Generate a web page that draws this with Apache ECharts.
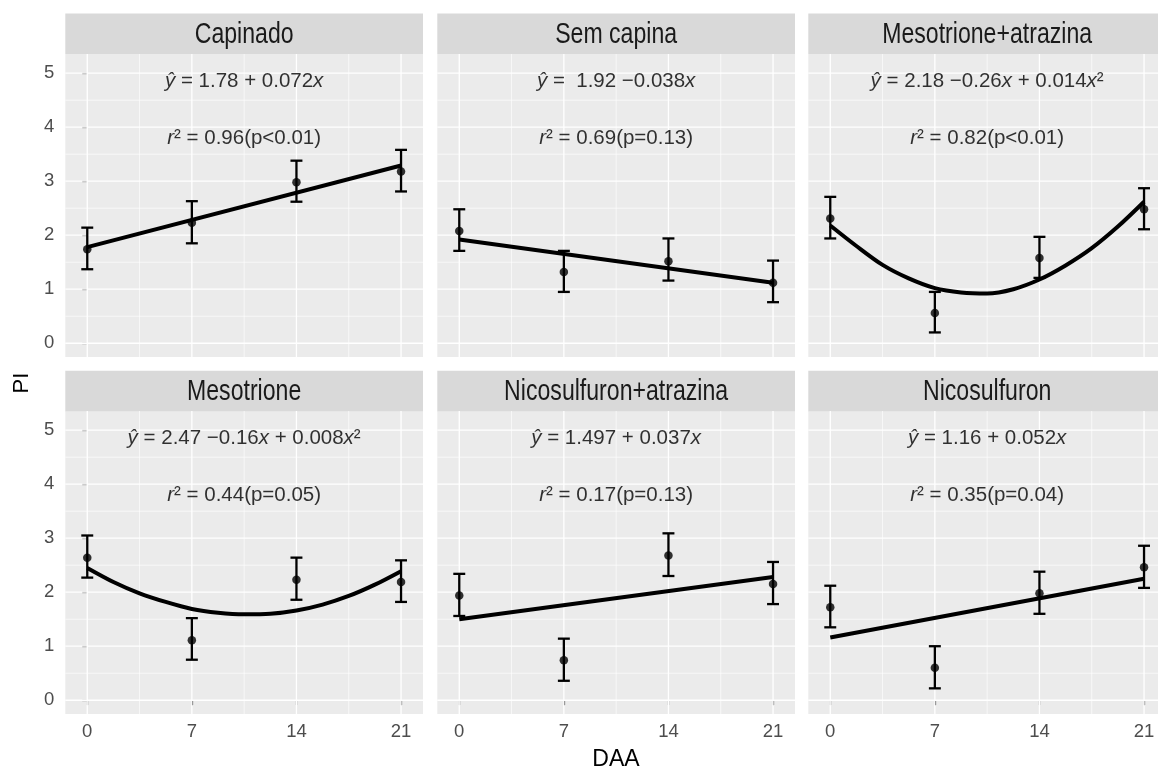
<!DOCTYPE html>
<html><head><meta charset="utf-8">
<script src="https://cdn.jsdelivr.net/npm/echarts@6/dist/echarts.min.js"></script>
<style>html,body{margin:0;padding:0;background:#fff}#c{width:1158px;height:771px}</style>
</head><body><div id="c"></div>
<script>
// ---------------- data ----------------
const panels = ["Capinado","Sem capina","Mesotrione+atrazina","Mesotrione","Nicosulfuron+atrazina","Nicosulfuron"];
const days = [0,7,14,21];
const xTicks = [0,7,14,21];
const xMinor = [3.5,10.5,17.5];
const yTicks = [0,1,2,3,4,5];
const yMinor = [0.5,1.5,2.5,3.5,4.5];
const meanCapinado   = [1.74,2.23,2.98,3.18];
const meanSemCapina  = [2.08,1.32,1.52,1.12];
const meanMesoAtra   = [2.31,0.56,1.58,2.48];
const meanMeso       = [2.64,1.11,2.23,2.19];
const meanNicoAtra   = [1.94,0.74,2.68,2.15];
const meanNico       = [1.72,0.60,1.98,2.46];
const lowCapinado    = [1.37,1.85,2.62,2.81];
const lowSemCapina   = [1.71,0.95,1.16,0.76];
const lowMesoAtra    = [1.94,0.20,1.21,2.11];
const lowMeso        = [2.27,0.75,1.86,1.82];
const lowNicoAtra    = [1.56,0.36,2.30,1.78];
const lowNico        = [1.35,0.22,1.60,2.08];
const upCapinado     = [2.14,2.63,3.38,3.58];
const upSemCapina    = [2.48,1.71,1.94,1.53];
const upMesoAtra     = [2.71,0.95,1.97,2.87];
const upMeso         = [3.05,1.52,2.64,2.59];
const upNicoAtra     = [2.34,1.14,3.09,2.56];
const upNico         = [2.12,1.00,2.38,2.86];
const fitXLinear = [0,21];
const fitXCurve  = [0,1.75,3.5,5.25,7,8.75,10.5,12.25,14,15.75,17.5,19.25,21];
const fitCapinado  = [1.78,3.29];
const fitSemCapina = [1.92,1.12];
const fitMesoAtra  = [2.18,1.80,1.45,1.20,1.02,0.94,0.92,1.00,1.18,1.44,1.76,2.16,2.62];
const fitMeso      = [2.45,2.19,1.98,1.82,1.69,1.62,1.59,1.60,1.66,1.77,1.93,2.14,2.39];
const fitNicoAtra  = [1.50,2.28];
const fitNico      = [1.16,2.25];
const equations = [
  "{i|ŷ} = 1.78 + 0.072{i|x}",
  "{i|ŷ} =  1.92 \u22120.038{i|x}",
  "{i|ŷ} = 2.18 \u22120.26{i|x} + 0.014{i|x}\u00B2",
  "{i|ŷ} = 2.47 \u22120.16{i|x} + 0.008{i|x}\u00B2",
  "{i|ŷ} = 1.497 + 0.037{i|x}",
  "{i|ŷ} = 1.16 + 0.052{i|x}"
];
const r2Labels = [
  "{i|r}\u00B2 = 0.96(p<0.01)",
  "{i|r}\u00B2 = 0.69(p=0.13)",
  "{i|r}\u00B2 = 0.82(p<0.01)",
  "{i|r}\u00B2 = 0.44(p=0.05)",
  "{i|r}\u00B2 = 0.17(p=0.13)",
  "{i|r}\u00B2 = 0.35(p=0.04)"
];
const xTitle = "DAA";
const yTitle = "PI";

// ------------- layout / style ------------
const means = [meanCapinado,meanSemCapina,meanMesoAtra,meanMeso,meanNicoAtra,meanNico];
const lows  = [lowCapinado,lowSemCapina,lowMesoAtra,lowMeso,lowNicoAtra,lowNico];
const ups   = [upCapinado,upSemCapina,upMesoAtra,upMeso,upNicoAtra,upNico];
const fitXs = [fitXLinear,fitXLinear,fitXCurve,fitXCurve,fitXLinear,fitXLinear];
const fitYs = [fitCapinado,fitSemCapina,fitMesoAtra,fitMeso,fitNicoAtra,fitNico];

const FONT = "'Liberation Sans', Arial, Helvetica, sans-serif";
const colLeft = [65.3, 437.3, 808.3];
const panelW = 357.7;
const rowTop = [54, 411];
const panelH = 303;
const stripTop = [13.5, 370.7];
const stripH = 40.5;
const xMin = -1.47, xMax = 22.47;
const yMin = -0.255, yMax = 5.355;
const CAP = 0.8;
const eqX = 10.5, eqY = 4.85, r2Y = 3.8;

const gridLineData = [];
xTicks.forEach(v => gridLineData.push([v, 0]));
xMinor.forEach(v => gridLineData.push([v, 1]));
yTicks.forEach(v => gridLineData.push([v, 2]));
yMinor.forEach(v => gridLineData.push([v, 3]));

const grids = [], xAxes = [], yAxes = [], series = [], graphics = [];
panels.forEach((name, i) => {
  const r = Math.floor(i / 3), c = i % 3;
  const isBottom = r === 1, isLeft = c === 0;
  grids.push({left: colLeft[c], top: rowTop[r], width: panelW, height: panelH,
    show: true, backgroundColor: '#EBEBEB', borderWidth: 0, containLabel: false, outerBoundsMode: 'none'});
  xAxes.push({gridIndex: i, type: 'value', min: xMin, max: xMax,
    axisLine: {show: false}, splitLine: {show: false},
    axisTick: {show: isBottom, customValues: xTicks, length: 5, lineStyle: {color: '#333333', width: 1.2}},
    axisLabel: {show: isBottom, customValues: xTicks, color: '#4D4D4D', fontSize: 18.5, fontFamily: FONT, margin: 8}});
  yAxes.push({gridIndex: i, type: 'value', min: yMin, max: yMax,
    axisLine: {show: false}, splitLine: {show: false},
    axisTick: {show: isLeft, customValues: yTicks, length: 5, lineStyle: {color: '#333333', width: 1.2}},
    axisLabel: {show: isLeft, customValues: yTicks, color: '#4D4D4D', fontSize: 18.5, fontFamily: FONT, margin: 11}});

  // panel grid lines
  series.push({type: 'custom', xAxisIndex: i, yAxisIndex: i, z: 1, silent: true,
    data: gridLineData, encode: {x: 0, y: 1},
    renderItem: function (params, api) {
      const v = api.value(0), kind = api.value(1);
      const cs = params.coordSys;
      let shape;
      if (kind < 2) {
        const px = api.coord([v, 0])[0];
        shape = {x1: px, y1: cs.y, x2: px, y2: cs.y + cs.height};
      } else {
        const py = api.coord([0, v])[1];
        shape = {x1: cs.x, y1: py, x2: cs.x + cs.width, y2: py};
      }
      const major = (kind === 0 || kind === 2);
      return {type: 'line', shape: shape, style: {stroke: '#FFFFFF', lineWidth: major ? 1.3 : 0.65}};
    }});

  // error bars
  series.push({type: 'custom', xAxisIndex: i, yAxisIndex: i, z: 3, silent: true,
    data: days.map((d, j) => [d, lows[i][j], ups[i][j]]), encode: {x: 0, y: [1, 2]},
    renderItem: function (params, api) {
      const x = api.value(0), lo = api.value(1), hi = api.value(2);
      const pLo = api.coord([x, lo]), pHi = api.coord([x, hi]);
      const hw = api.size([CAP, 0])[0] / 2;
      const st = {stroke: '#000000', lineWidth: 2.3};
      return {type: 'group', children: [
        {type: 'line', shape: {x1: pLo[0], y1: pLo[1], x2: pHi[0], y2: pHi[1]}, style: st},
        {type: 'line', shape: {x1: pHi[0] - hw, y1: pHi[1], x2: pHi[0] + hw, y2: pHi[1]}, style: st},
        {type: 'line', shape: {x1: pLo[0] - hw, y1: pLo[1], x2: pLo[0] + hw, y2: pLo[1]}, style: st}
      ]};
    }});

  // points
  series.push({type: 'scatter', xAxisIndex: i, yAxisIndex: i, z: 4, silent: true,
    symbol: 'circle', symbolSize: 8.5, itemStyle: {color: '#000000'},
    data: days.map((d, j) => [d, means[i][j]])});

  // fitted line
  series.push({type: 'line', xAxisIndex: i, yAxisIndex: i, z: 5, silent: true,
    showSymbol: false, symbol: 'none', smooth: fitXs[i].length > 2 ? 0.3 : false,
    lineStyle: {color: '#000000', width: 4, cap: 'butt', join: 'round'},
    data: fitXs[i].map((x, j) => [x, fitYs[i][j]])});

  // annotations
  const rich = {
    i: {fontStyle: 'italic', fontSize: 20.5, fontFamily: FONT, color: '#000000'}
  };
  series.push({type: 'scatter', xAxisIndex: i, yAxisIndex: i, z: 6, silent: true,
    symbolSize: 0, itemStyle: {color: 'rgba(0,0,0,0)'},
    label: {show: true, position: 'inside', fontSize: 20.5, fontFamily: FONT, color: '#000000', rich: rich},
    data: [
      {value: [eqX, eqY], label: {formatter: function () { return equations[i]; }}},
      {value: [eqX, r2Y], label: {formatter: function () { return r2Labels[i]; }}}
    ]});

  // strip
  graphics.push({type: 'rect', left: colLeft[c], top: stripTop[r], silent: true, z: 0,
    shape: {width: panelW, height: stripH}, style: {fill: '#D9D9D9'}});
  graphics.push({type: 'text', x: colLeft[c] + panelW / 2, y: stripTop[r] + stripH / 2 + 1,
    scaleX: 0.77, scaleY: 1, silent: true, z: 1,
    style: {text: name, fill: '#1A1A1A', font: "30px " + FONT, align: 'center', verticalAlign: 'middle'}});
});

graphics.push({type: 'text', x: 616, y: 760, silent: true,
  style: {text: xTitle, fill: '#000000', font: "23px " + FONT, align: 'center', verticalAlign: 'middle'}});
graphics.push({type: 'text', x: 22, y: 383, rotation: Math.PI / 2, silent: true,
  style: {text: yTitle, fill: '#000000', font: "22px " + FONT, align: 'center', verticalAlign: 'middle'}});

const chart = echarts.init(document.getElementById('c'), null, {renderer: 'canvas'});
chart.setOption({
  backgroundColor: '#FFFFFF',
  animation: false,
  grid: grids, xAxis: xAxes, yAxis: yAxes, series: series, graphic: graphics
});
</script>
</body></html>
